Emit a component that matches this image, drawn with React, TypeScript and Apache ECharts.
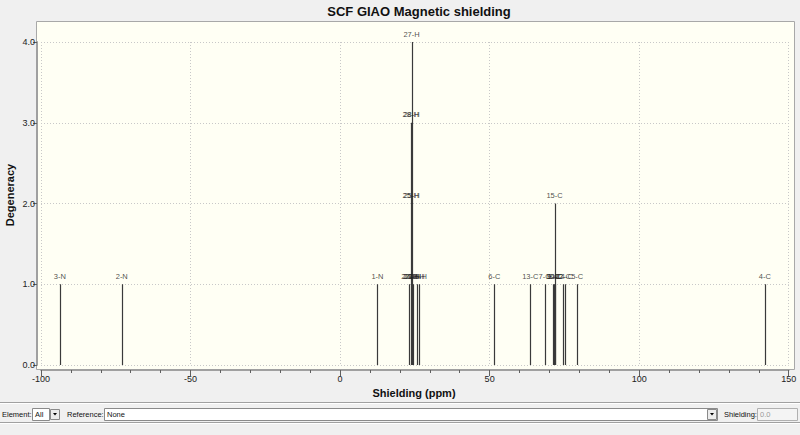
import React, { useEffect, useRef } from "react";
import * as echarts from "echarts";

// Stick positions (ppm), degeneracy and the atom labels drawn at each level
const stickShielding = [-93.7, -73.0, 12.5, 23.2, 23.6, 23.9, 24.3, 25.6, 26.3, 51.6, 63.6, 68.4, 71.2, 71.5, 71.7, 72.0, 74.5, 75.1, 79.3, 142.0];
const stickDegeneracy = [1, 1, 1, 1, 3, 4, 1, 1, 1, 1, 1, 1, 1, 1, 2, 1, 1, 1, 1, 1];
const stickAtoms = [
  ["3-N"], ["2-N"], ["1-N"],
  ["22-H"], ["24-H", "25-H", "28-H"], ["23-H", "25-H", "28-H", "27-H"], ["21-H"], ["20-H"], ["26-H"],
  ["6-C"], ["13-C"], ["7-C"], ["9-C"], ["10-C"], ["8-C", "15-C"], ["11-C"], ["12-C"], ["14-C"], ["5-C"],
  ["4-C"],
];
const xTicks = [-100, -50, 0, 50, 100, 150];

const FONT = "Liberation Sans";

export default function App() {
  const ref = useRef<HTMLDivElement>(null);
  useEffect(() => {
    if (!ref.current) return;
    const chart = echarts.init(ref.current, undefined, { renderer: "svg" });
    const stickData = stickShielding.map((s, i) => [s, stickDegeneracy[i]]);
    const labelData: any[] = [];
    stickShielding.forEach((s, i) => {
      stickAtoms[i].forEach((name, k) => labelData.push({ value: [s, k + 1], name }));
    });
    const uiText = (x: number, y: number, text: string, color = "#111") => ({
      type: "text", x, y, silent: true, z: 5,
      style: { text, fill: color, font: `7.5px "${FONT}"`, verticalAlign: "middle" },
    });
    const sep = (y: number) => [
      { type: "line", shape: { x1: 0, y1: y, x2: 800, y2: y }, style: { stroke: "#a0a0a0", lineWidth: 1 } },
      { type: "line", shape: { x1: 0, y1: y + 1, x2: 800, y2: y + 1 }, style: { stroke: "#ffffff", lineWidth: 1 } },
    ];
    const comboBtn = (x: number) => [
      { type: "rect", shape: { x, y: 409.5, width: 9, height: 10 }, style: { fill: "#ececec", stroke: "#8a8a8a", lineWidth: 1 } },
      { type: "polygon", shape: { points: [[x + 2.5, 413], [x + 6.5, 413], [x + 4.5, 415.5]] }, style: { fill: "#000" } },
    ];
    chart.setOption({
      animation: false,
      backgroundColor: "#f0f0f0",
      grid: { left: 41, right: 11.3, top: 42, bottom: 70, containLabel: false },
      xAxis: {
        type: "value", min: -100, max: 150, interval: 50, offset: 5,
        axisLine: { show: true, onZero: false, lineStyle: { color: "#a0a0a0", width: 2 } },
        axisTick: { show: true, length: 6, lineStyle: { color: "#606060" } },
        minorTick: { show: true, splitNumber: 5, length: 3, lineStyle: { color: "#606060" } },
        axisLabel: { color: "#222", fontFamily: FONT, fontSize: 9, margin: 4, customValues: xTicks } as any,
        splitLine: { show: true, lineStyle: { color: "#c8c8c8", type: [1, 2] } },
      },
      yAxis: {
        type: "value", min: 0, max: 4, interval: 1, offset: 4,
        axisLine: { show: true, onZero: false, lineStyle: { color: "#a0a0a0", width: 2 } },
        axisTick: { show: true, length: 4, lineStyle: { color: "#606060" } },
        axisLabel: { color: "#222", fontFamily: FONT, fontSize: 9, margin: 2, formatter: (v: number) => v.toFixed(1) },
        splitLine: { show: true, lineStyle: { color: "#c8c8c8", type: [1, 2] } },
      },
      graphic: [
        { type: "rect", z: -10, silent: true, shape: { x: 36.5, y: 21.5, width: 758, height: 348 }, style: { fill: "#fffff4", stroke: "#a8a8a8", lineWidth: 1 } },
        { type: "text", x: 419, y: 11, silent: true, style: { text: "SCF GIAO Magnetic shielding", fill: "#111", font: `bold 13px "${FONT}"`, align: "center", verticalAlign: "middle" } },
        { type: "text", x: 10, y: 195, rotation: Math.PI / 2, silent: true, style: { text: "Degeneracy", fill: "#111", font: `bold 11px "${FONT}"`, align: "center", verticalAlign: "middle" } },
        { type: "text", x: 414, y: 393, silent: true, style: { text: "Shielding (ppm)", fill: "#111", font: `bold 11px "${FONT}"`, align: "center", verticalAlign: "middle" } },
        ...sep(402.5),
        ...sep(422.5),
        { type: "rect", shape: { x: 32.5, y: 408.5, width: 17, height: 12 }, style: { fill: "#ffffff", stroke: "#8a8a8a", lineWidth: 1 } },
        ...comboBtn(50.5),
        { type: "rect", shape: { x: 104.5, y: 408.5, width: 613, height: 12 }, style: { fill: "#ffffff", stroke: "#8a8a8a", lineWidth: 1 } },
        ...comboBtn(707.5),
        { type: "rect", shape: { x: 757.5, y: 408.5, width: 40, height: 12 }, style: { fill: "#f4f4f4", stroke: "#b0b0b0", lineWidth: 1 } },
        uiText(2, 414.5, "Element:"),
        uiText(35, 414.5, "All"),
        uiText(67, 414.5, "Reference:"),
        uiText(107, 414.5, "None"),
        uiText(724, 414.5, "Shielding:"),
        uiText(760, 414.5, "0.0", "#9a9a9a"),
      ],
      series: [
        {
          type: "custom",
          data: stickData,
          renderItem: (params: any, api: any) => {
            const x = api.value(0);
            const d = api.value(1);
            const p0 = api.coord([x, 0]);
            const p1 = api.coord([x, d]);
            const px = Math.round(p0[0]) + 0.5;
            return {
              type: "line",
              shape: { x1: px, y1: p0[1], x2: px, y2: p1[1] },
              style: { stroke: "#3a3a3a", lineWidth: 1.2 },
            };
          },
          z: 3,
        },
        {
          type: "scatter",
          data: labelData,
          symbolSize: 0,
          z: 4,
          label: {
            show: true, position: "top", distance: 4,
            formatter: (p: any) => p.name,
            color: "#222", fontFamily: FONT, fontSize: 7.5,
          },
        },
      ],
    } as any);
    return () => chart.dispose();
  }, []);
  return <div ref={ref} style={{ position: "fixed", left: 0, top: 0, width: 800, height: 435 }} />;
}
